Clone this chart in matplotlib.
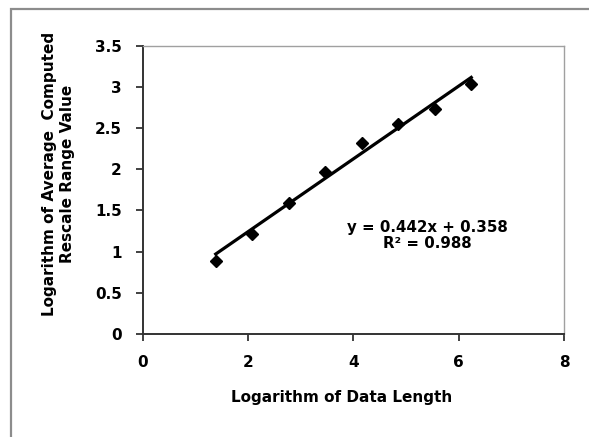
import matplotlib
matplotlib.use('Agg')
import matplotlib.pyplot as plt
from matplotlib.patches import Rectangle
import numpy as np

# log of data length vs log of average R/S value
log_n = [1.386, 2.079, 2.773, 3.466, 4.159, 4.852, 5.545, 6.238]
log_rs = [0.89, 1.22, 1.595, 1.97, 2.315, 2.545, 2.73, 3.03]
slope = 0.442
intercept = 0.358
r2 = 0.988

x_ticks = [0, 2, 4, 6, 8]
y_ticks = [0, 0.5, 1, 1.5, 2, 2.5, 3, 3.5]

plt.rcParams['font.family'] = ['DejaVu Sans']
plt.rcParams['font.weight'] = 'bold'

fig = plt.figure(figsize=(5.89, 4.37), dpi=100)
ax = fig.add_axes([0.2423, 0.2357, 0.7153, 0.6597])

# outer chart frame
fig.patches.append(Rectangle((11/589, -0.1), 2.0, 1 - 9/437 + 0.1, transform=fig.transFigure,
                             fill=False, edgecolor='#8c8c8c', lw=1.6))

ax.plot(log_n, log_rs, 'D', color='black', markersize=6.5, zorder=3)

xs = np.array([min(log_n), max(log_n)])
ax.plot(xs, slope*xs + intercept, color='black', lw=2.3)

ax.text(5.41, 1.2, 'y = %.3fx + %.3f\nR² = %.3f' % (slope, intercept, r2),
        ha='center', va='center', fontsize=10.8, fontweight='bold', linespacing=1.1)

ax.set_xlim(0, 8)
ax.set_ylim(0, 3.5)
ax.set_xticks(x_ticks)
ax.set_yticks(y_ticks)
ax.set_xticklabels([str(v) for v in x_ticks])
ax.set_yticklabels(['0', '0.5', '1', '1.5', '2', '2.5', '3', '3.5'])
ax.tick_params(axis='both', direction='out', length=5, width=1.3, labelsize=11, color='#333333')
ax.tick_params(axis='y', pad=10)
ax.tick_params(axis='x', pad=10)

for s in ['left', 'bottom']:
    ax.spines[s].set_color('#333333')
    ax.spines[s].set_linewidth(1.4)
for s in ['top', 'right']:
    ax.spines[s].set_color('#a0a0a0')
    ax.spines[s].set_linewidth(1.0)

ax.set_xlabel('Logarithm of Data Length', fontsize=11, fontweight='bold', va='center')
ax.xaxis.set_label_coords(0.473, -0.219)
ax.set_ylabel('Logarithm of Average  Computed\nRescale Range Value', fontsize=11,
              fontweight='bold', va='center', linespacing=1.3)
ax.yaxis.set_label_coords(-0.2, 0.555)

fig.savefig('out.png', dpi=100)
